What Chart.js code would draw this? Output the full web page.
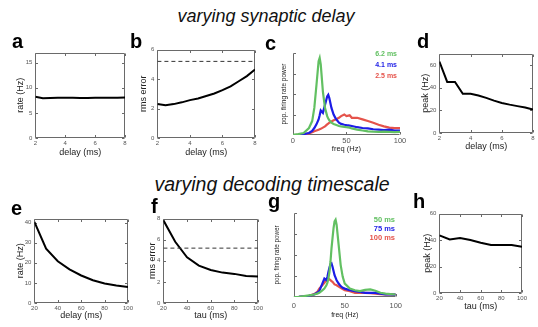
<!DOCTYPE html>
<html><head><meta charset="utf-8">
<script src="https://cdn.jsdelivr.net/npm/chart.js@4.4.0/dist/chart.umd.min.js"></script>
<style>
html,body{margin:0;padding:0;background:#fff;}
#root{position:relative;width:538px;height:327px;overflow:hidden;font-family:"Liberation Sans",Arial,sans-serif;}
.pc{position:absolute;}
.txt{position:absolute;white-space:nowrap;line-height:1;}
</style></head><body><div id="root"></div>
<script>
// ---------- data ----------
const delayMs = [2,2.5,3,3.5,4,4.5,5,5.5,6,6.5,7,7.5,8];
const rateByDelay = [8.2,7.9,7.95,8,8,8,7.95,7.95,8,8,8,8,8.05];
const rmsByDelay = [2.3,2.22,2.3,2.42,2.57,2.68,2.85,3.02,3.25,3.5,3.85,4.2,4.65];
const peakByDelay = [63,45,45,34.5,34.5,33,31,28.5,26.5,25,23.7,22.5,20.6];
const tauMs = [20,30,40,50,60,70,80,90,100];
const rateByTau = [40.3,27,20.8,16.7,13.7,11.3,9.7,8.7,8];
const rmsByTau = [7.84,5.8,4.33,3.54,3.13,2.88,2.76,2.57,2.5];
const peakByTau = [43.5,40.5,41.5,40,38,36.3,36.3,36.3,35];
const chanceRms = 5.2;

const freqC = [0,5,10,15,18,20,22,24,25,26,28,30,32,33,34,36,38,40,43,45,48,50,53,55,60,65,70,75,80,85,90,95,100];
const powC_6_2 = [0,0.01,0.025,0.085,0.17,0.33,0.61,0.9,0.94,0.86,0.53,0.33,0.23,0.2,0.18,0.15,0.135,0.125,0.11,0.105,0.1,0.095,0.09,0.08,0.065,0.055,0.045,0.04,0.037,0.04,0.037,0.035,0.037];
const powC_4_1 = [0,0.003,0.01,0.025,0.05,0.085,0.13,0.19,0.24,0.3,0.27,0.37,0.47,0.49,0.45,0.33,0.25,0.2,0.15,0.135,0.125,0.12,0.115,0.11,0.095,0.085,0.08,0.07,0.065,0.06,0.065,0.055,0.055];
const powC_2_5 = [0,0.002,0.005,0.02,0.035,0.045,0.055,0.065,0.07,0.075,0.09,0.105,0.13,0.14,0.15,0.165,0.18,0.19,0.21,0.23,0.25,0.23,0.24,0.21,0.21,0.19,0.17,0.15,0.125,0.105,0.09,0.085,0.085];

const freqG = [0,5,10,15,20,23,25,28,30,32,33,34,35,36,37,38,39,40,41,42,44,46,48,50,55,60,65,70,75,80,85,90,95,100];
const powG_50 = [0,0.003,0.01,0.02,0.03,0.04,0.05,0.08,0.1,0.14,0.17,0.22,0.3,0.42,0.58,0.7,0.82,0.9,0.92,0.86,0.62,0.38,0.24,0.16,0.1,0.08,0.07,0.085,0.09,0.075,0.05,0.04,0.035,0.03];
const powG_75 = [0,0.003,0.008,0.015,0.03,0.05,0.07,0.16,0.22,0.2,0.24,0.3,0.35,0.39,0.4,0.36,0.31,0.26,0.23,0.2,0.16,0.13,0.11,0.1,0.08,0.07,0.06,0.05,0.05,0.048,0.04,0.03,0.03,0.028];
const powG_100 = [0,0.003,0.008,0.015,0.035,0.06,0.1,0.14,0.17,0.2,0.22,0.22,0.21,0.2,0.19,0.18,0.165,0.15,0.145,0.14,0.125,0.11,0.095,0.08,0.07,0.05,0.05,0.05,0.045,0.04,0.035,0.032,0.03,0.028];

const legendC = ['6.2 ms','4.1 ms','2.5 ms'];
const legendG = ['50 ms','75 ms','100 ms'];
const delayTicks = [2,4,6,8];
const tauTicks = [20,40,60,80,100];
const freqTicks = [0,50,100];
const powerTicks = [0.25,0.5,0.75,1];

// ---------- styling ----------
const GREEN = '#62c062', BLUE = '#1c1ce6', RED = '#e5534b';
const FONT = '"Liberation Sans", Arial, sans-serif';
const root = document.getElementById('root');

const boxTicks = {
  id: 'boxTicks',
  beforeDatasetsDraw(chart, args, o) {
    const {ctx, chartArea: a, scales: {x, y}} = chart;
    const L = 2.5;
    ctx.save();
    ctx.strokeStyle = '#6a6a6a'; ctx.lineWidth = 1;
    const l = Math.round(a.left) + 0.5, r = Math.round(a.right) - 0.5;
    const t = Math.round(a.top) + 0.5, b = Math.round(a.bottom) - 0.5;
    ctx.beginPath();
    ctx.moveTo(l, t); ctx.lineTo(l, b); ctx.lineTo(r, b);
    if (o.box) { ctx.lineTo(r, t); ctx.lineTo(l, t); }
    x.ticks.forEach(tk => { const px = Math.round(x.getPixelForValue(tk.value)) + 0.5;
      ctx.moveTo(px, b); ctx.lineTo(px, b - L); if (o.box) { ctx.moveTo(px, t); ctx.lineTo(px, t + L); } });
    y.ticks.forEach(tk => { const py = Math.round(y.getPixelForValue(tk.value)) + 0.5;
      ctx.moveTo(l, py); ctx.lineTo(l + L, py); if (o.box) { ctx.moveTo(r, py); ctx.lineTo(r - L, py); } });
    ctx.stroke(); ctx.restore();
  }
};

function series(xs, ys, color, w, dash) {
  return { data: xs.map((x, i) => ({x, y: ys[i]})), borderColor: color, borderWidth: w,
           borderDash: dash || [], pointRadius: 0, tension: 0, fill: false };
}

function panel(p) {
  const tf = p.titleFont || 9, ytf = p.yTitleFont || tf;
  const lhY = ytf * 1.2, lhX = tf * 1.2;
  const left = p.YT - lhY / 2, top = p.T - 6;
  const right = p.R + 8, bottom = p.XT + lhX / 2;
  const W = Math.round(right - left), H = Math.round(bottom - top);
  const div = document.createElement('div');
  div.className = 'pc';
  div.style.left = left + 'px'; div.style.top = top + 'px';
  div.style.width = W + 'px'; div.style.height = H + 'px';
  const cv = document.createElement('canvas');
  cv.width = W; cv.height = H; cv.style.width = W + 'px'; cv.style.height = H + 'px';
  div.appendChild(cv); root.appendChild(div);
  const yW = p.L - left, xH = H - (p.B - top);
  const tickFont = {size: p.tickFont || 6, family: FONT};
  new Chart(cv, {
    type: 'line',
    data: {datasets: p.datasets},
    options: {
      animation: false, responsive: false, devicePixelRatio: 1,
      layout: {padding: {left: 0, top: 6, right: 8, bottom: 0}},
      plugins: {legend: {display: false}, tooltip: {enabled: false}, boxTicks: {box: p.box}},
      scales: {
        x: {type: 'linear', min: p.xr[0], max: p.xr[1],
            grid: {display: false, drawTicks: false}, border: {display: false},
            afterBuildTicks: s => { s.ticks = p.xTicks.map(v => ({value: v})); },
            afterFit: s => { s.height = xH; },
            ticks: {font: tickFont, color: '#555', padding: p.xPad || 2, maxRotation: 0, autoSkip: false,
                    callback: v => String(v)},
            title: {display: true, text: p.xTitle, font: {size: tf, family: FONT}, color: '#222', padding: 0}},
        y: {type: 'linear', min: p.yr[0], max: p.yr[1],
            grid: {display: false, drawTicks: false}, border: {display: false},
            afterBuildTicks: s => { s.ticks = p.yTicks.map(v => ({value: v})); },
            afterFit: s => { s.width = yW; },
            ticks: {display: p.yLabels !== false, font: tickFont, color: '#555', padding: 3,
                    callback: v => String(v)},
            title: {display: true, text: p.yTitle, font: {size: ytf, family: FONT}, color: '#222', padding: 0}}
      }
    },
    plugins: [boxTicks]
  });
}

function text(str, x, baseline, size, opt) {
  opt = opt || {};
  const d = document.createElement('div');
  d.className = 'txt';
  d.textContent = str;
  d.style.fontSize = size + 'px';
  d.style.top = (baseline - 0.8465 * size) + 'px';
  d.style.left = x + 'px';
  if (opt.bold) d.style.fontWeight = 'bold';
  if (opt.italic) d.style.fontStyle = 'italic';
  d.style.color = opt.color || '#111';
  if (opt.align === 'center') d.style.transform = 'translateX(-50%)';
  if (opt.align === 'right') d.style.transform = 'translateX(-100%)';
  root.appendChild(d);
}

// ---------- panels ----------
panel({L:35,T:52,R:125,B:138,YT:20,XT:153, xr:[2,8], yr:[0,17], xTicks:delayTicks, yTicks:[0,5,10,15],
  xTitle:'delay (ms)', yTitle:'rate (Hz)', box:true,
  datasets:[series(delayMs, rateByDelay, '#000', 2)]});
panel({L:157,T:49,R:255,B:138,YT:143,XT:153, xr:[2,8], yr:[0,6], xTicks:delayTicks, yTicks:[0,2,4,6],
  xTitle:'delay (ms)', yTitle:'rms error', box:true,
  datasets:[series([delayMs[0], delayMs[delayMs.length-1]], [chanceRms, chanceRms], '#333', 1, [4,3]),
            series(delayMs, rmsByDelay, '#000', 2)]});
panel({L:293,T:53,R:400,B:135,YT:284,XT:148, xr:[0,100], yr:[0,1], xTicks:freqTicks, yTicks:powerTicks, yLabels:false,
  xTitle:'freq (Hz)', yTitle:'pop. firing rate power', box:false, titleFont:7.5, yTitleFont:6.5, tickFont:7.5, xPad:1,
  datasets:[series(freqC, powC_6_2, GREEN, 2.2), series(freqC, powC_4_1, BLUE, 2.2), series(freqC, powC_2_5, RED, 2.2)]});
panel({L:439,T:53,R:533,B:133,YT:425,XT:147, xr:[2,8], yr:[0,70], xTicks:delayTicks, yTicks:[0,20,40,60],
  xTitle:'delay (ms)', yTitle:'peak (Hz)', box:true,
  datasets:[series(delayMs, peakByDelay, '#000', 2)]});
panel({L:34,T:218,R:128,B:303,YT:20,XT:316, xr:[20,100], yr:[0,42], xTicks:tauTicks, yTicks:[0,10,20,30,40],
  xTitle:'delay (ms)', yTitle:'rate (Hz)', box:true,
  datasets:[series(tauMs, rateByTau, '#000', 2)]});
panel({L:163,T:218,R:258,B:303,YT:152,XT:316, xr:[20,100], yr:[0,8], xTicks:tauTicks, yTicks:[0,2,4,6,8],
  xTitle:'tau (ms)', yTitle:'rms error', box:true,
  datasets:[series([tauMs[0], tauMs[tauMs.length-1]], [chanceRms, chanceRms], '#333', 1, [4,3]),
            series(tauMs, rmsByTau, '#000', 2)]});
panel({L:294,T:213,R:398,B:297,YT:277,XT:315, xr:[0,100], yr:[0,1], xTicks:freqTicks, yTicks:powerTicks, yLabels:false,
  xTitle:'freq (Hz)', yTitle:'pop. firing rate power', box:false, titleFont:7, yTitleFont:6.3, tickFont:7.5, xPad:4,
  datasets:[series(freqG, powG_50, GREEN, 2.2), series(freqG, powG_75, BLUE, 2.2), series(freqG, powG_100, RED, 2.2)]});
panel({L:439,T:213,R:522,B:293,YT:427,XT:307, xr:[20,100], yr:[0,60], xTicks:tauTicks, yTicks:[0,20,40,60],
  xTitle:'tau (ms)', yTitle:'peak (Hz)', box:true,
  datasets:[series(tauMs, peakByTau, '#000', 2)]});

// ---------- text overlays ----------
text('varying synaptic delay', 266, 22.5, 18, {italic:true, align:'center'});
text('varying decoding timescale', 272, 192, 19.5, {italic:true, align:'center'});
[['a',12,48],['b',130,48],['c',265,50],['d',417,48],['e',11,215],['f',151,213],['g',268,208],['h',413,208]]
  .forEach(([s,x,y]) => text(s, x, y, 20, {bold:true, color:'#000'}));
[GREEN, BLUE, RED].forEach((c, i) => text(legendC[i], 397, [55.5,67,77.5][i], 7, {bold:true, color:c, align:'right'}));
[GREEN, BLUE, RED].forEach((c, i) => text(legendG[i], 395, [222.7,231.7,240.7][i], 7.5, {bold:true, color:c, align:'right'}));
</script></body></html>
